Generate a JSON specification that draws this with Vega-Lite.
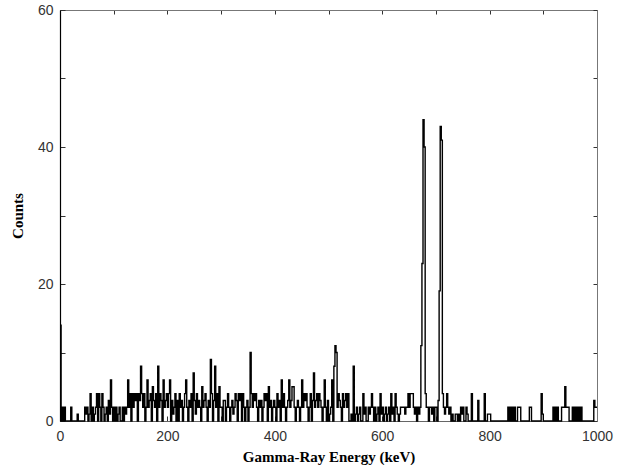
{
  "$schema": "https://vega.github.io/schema/vega-lite/v6.json",
  "width": 537,
  "height": 411,
  "autosize": "none",
  "padding": {"left": 60, "top": 10, "right": 27, "bottom": 44},
  "background": "white",
  "config": {"view": {"stroke": null}},
  "data": {"values": [
    {"e":0,"c":14},{"e":2,"c":0},{"e":4,"c":2},{"e":6,"c":0},{"e":8,"c":2},{"e":10,"c":0},{"e":12,"c":0},{"e":14,"c":0},{"e":16,"c":0},{"e":18,"c":0},
    {"e":20,"c":2},{"e":22,"c":0},{"e":24,"c":0},{"e":26,"c":0},{"e":28,"c":0},{"e":30,"c":0},{"e":32,"c":1},{"e":34,"c":0},{"e":36,"c":0},{"e":38,"c":0},
    {"e":40,"c":0},{"e":42,"c":0},{"e":44,"c":0},{"e":46,"c":2},{"e":48,"c":1},{"e":50,"c":2},{"e":52,"c":0},{"e":54,"c":1},{"e":56,"c":4},{"e":58,"c":0},
    {"e":60,"c":2},{"e":62,"c":0},{"e":64,"c":1},{"e":66,"c":2},{"e":68,"c":4},{"e":70,"c":0},{"e":72,"c":4},{"e":74,"c":2},{"e":76,"c":0},{"e":78,"c":4},
    {"e":80,"c":2},{"e":82,"c":0},{"e":84,"c":1},{"e":86,"c":2},{"e":88,"c":0},{"e":90,"c":3},{"e":92,"c":1},{"e":94,"c":6},{"e":96,"c":2},{"e":98,"c":0},
    {"e":100,"c":2},{"e":102,"c":0},{"e":104,"c":2},{"e":106,"c":0},{"e":108,"c":1},{"e":110,"c":2},{"e":112,"c":0},{"e":114,"c":0},{"e":116,"c":2},{"e":118,"c":0},
    {"e":120,"c":2},{"e":122,"c":1},{"e":124,"c":2},{"e":126,"c":6},{"e":128,"c":2},{"e":130,"c":4},{"e":132,"c":0},{"e":134,"c":4},{"e":136,"c":2},{"e":138,"c":4},
    {"e":140,"c":3},{"e":142,"c":4},{"e":144,"c":0},{"e":146,"c":4},{"e":148,"c":3},{"e":150,"c":8},{"e":152,"c":4},{"e":154,"c":2},{"e":156,"c":4},{"e":158,"c":0},
    {"e":160,"c":2},{"e":162,"c":6},{"e":164,"c":2},{"e":166,"c":3},{"e":168,"c":4},{"e":170,"c":0},{"e":172,"c":5},{"e":174,"c":3},{"e":176,"c":2},{"e":178,"c":4},
    {"e":180,"c":0},{"e":182,"c":8},{"e":184,"c":2},{"e":186,"c":4},{"e":188,"c":3},{"e":190,"c":0},{"e":192,"c":6},{"e":194,"c":2},{"e":196,"c":3},{"e":198,"c":4},
    {"e":200,"c":2},{"e":202,"c":4},{"e":204,"c":6},{"e":206,"c":0},{"e":208,"c":3},{"e":210,"c":1},{"e":212,"c":2},{"e":214,"c":4},{"e":216,"c":0},{"e":218,"c":3},
    {"e":220,"c":0},{"e":222,"c":4},{"e":224,"c":2},{"e":226,"c":3},{"e":228,"c":0},{"e":230,"c":2},{"e":232,"c":4},{"e":234,"c":6},{"e":236,"c":2},{"e":238,"c":0},
    {"e":240,"c":3},{"e":242,"c":2},{"e":244,"c":4},{"e":246,"c":0},{"e":248,"c":7},{"e":250,"c":3},{"e":252,"c":1},{"e":254,"c":4},{"e":256,"c":2},{"e":258,"c":3},
    {"e":260,"c":2},{"e":262,"c":0},{"e":264,"c":5},{"e":266,"c":2},{"e":268,"c":3},{"e":270,"c":4},{"e":272,"c":2},{"e":274,"c":0},{"e":276,"c":3},{"e":278,"c":2},
    {"e":280,"c":9},{"e":282,"c":4},{"e":284,"c":0},{"e":286,"c":3},{"e":288,"c":8},{"e":290,"c":2},{"e":292,"c":4},{"e":294,"c":0},{"e":296,"c":5},{"e":298,"c":2},
    {"e":300,"c":2},{"e":302,"c":0},{"e":304,"c":3},{"e":306,"c":3},{"e":308,"c":0},{"e":310,"c":2},{"e":312,"c":4},{"e":314,"c":2},{"e":316,"c":0},{"e":318,"c":2},
    {"e":320,"c":3},{"e":322,"c":1},{"e":324,"c":2},{"e":326,"c":4},{"e":328,"c":3},{"e":330,"c":0},{"e":332,"c":4},{"e":334,"c":3},{"e":336,"c":4},{"e":338,"c":0},
    {"e":340,"c":4},{"e":342,"c":2},{"e":344,"c":0},{"e":346,"c":2},{"e":348,"c":3},{"e":350,"c":0},{"e":352,"c":2},{"e":354,"c":10},{"e":356,"c":4},{"e":358,"c":2},
    {"e":360,"c":4},{"e":362,"c":3},{"e":364,"c":4},{"e":366,"c":2},{"e":368,"c":0},{"e":370,"c":3},{"e":372,"c":2},{"e":374,"c":3},{"e":376,"c":0},{"e":378,"c":2},
    {"e":380,"c":4},{"e":382,"c":3},{"e":384,"c":4},{"e":386,"c":0},{"e":388,"c":5},{"e":390,"c":2},{"e":392,"c":3},{"e":394,"c":0},{"e":396,"c":2},{"e":398,"c":3},
    {"e":400,"c":2},{"e":402,"c":0},{"e":404,"c":4},{"e":406,"c":2},{"e":408,"c":3},{"e":410,"c":0},{"e":412,"c":6},{"e":414,"c":2},{"e":416,"c":4},{"e":418,"c":2},
    {"e":420,"c":0},{"e":422,"c":2},{"e":424,"c":3},{"e":426,"c":6},{"e":428,"c":2},{"e":430,"c":3},{"e":432,"c":5},{"e":434,"c":5},{"e":436,"c":2},{"e":438,"c":0},
    {"e":440,"c":2},{"e":442,"c":3},{"e":444,"c":2},{"e":446,"c":0},{"e":448,"c":2},{"e":450,"c":6},{"e":452,"c":2},{"e":454,"c":4},{"e":456,"c":3},{"e":458,"c":4},
    {"e":460,"c":2},{"e":462,"c":0},{"e":464,"c":2},{"e":466,"c":4},{"e":468,"c":0},{"e":470,"c":3},{"e":472,"c":7},{"e":474,"c":2},{"e":476,"c":3},{"e":478,"c":4},
    {"e":480,"c":2},{"e":482,"c":4},{"e":484,"c":3},{"e":486,"c":2},{"e":488,"c":0},{"e":490,"c":2},{"e":492,"c":6},{"e":494,"c":2},{"e":496,"c":0},{"e":498,"c":3},
    {"e":500,"c":0},{"e":502,"c":1},{"e":504,"c":2},{"e":506,"c":6},{"e":508,"c":0},{"e":510,"c":8},{"e":512,"c":11},{"e":514,"c":10},{"e":516,"c":2},{"e":518,"c":4},
    {"e":520,"c":3},{"e":522,"c":2},{"e":524,"c":0},{"e":526,"c":4},{"e":528,"c":2},{"e":530,"c":3},{"e":532,"c":4},{"e":534,"c":2},{"e":536,"c":4},{"e":538,"c":0},
    {"e":540,"c":0},{"e":542,"c":1},{"e":544,"c":0},{"e":546,"c":8},{"e":548,"c":0},{"e":550,"c":1},{"e":552,"c":2},{"e":554,"c":0},{"e":556,"c":1},{"e":558,"c":2},
    {"e":560,"c":0},{"e":562,"c":0},{"e":564,"c":4},{"e":566,"c":1},{"e":568,"c":2},{"e":570,"c":0},{"e":572,"c":0},{"e":574,"c":2},{"e":576,"c":1},{"e":578,"c":2},
    {"e":580,"c":4},{"e":582,"c":2},{"e":584,"c":0},{"e":586,"c":2},{"e":588,"c":0},{"e":590,"c":1},{"e":592,"c":2},{"e":594,"c":0},{"e":596,"c":4},{"e":598,"c":1},
    {"e":600,"c":2},{"e":602,"c":0},{"e":604,"c":1},{"e":606,"c":2},{"e":608,"c":0},{"e":610,"c":1},{"e":612,"c":2},{"e":614,"c":0},{"e":616,"c":4},{"e":618,"c":1},
    {"e":620,"c":2},{"e":622,"c":0},{"e":624,"c":4},{"e":626,"c":2},{"e":628,"c":1},{"e":630,"c":0},{"e":632,"c":1},{"e":634,"c":2},{"e":636,"c":2},{"e":638,"c":2},
    {"e":640,"c":2},{"e":642,"c":1},{"e":644,"c":2},{"e":646,"c":2},{"e":648,"c":4},{"e":650,"c":2},{"e":652,"c":4},{"e":654,"c":4},{"e":656,"c":4},{"e":658,"c":2},
    {"e":660,"c":1},{"e":662,"c":2},{"e":664,"c":0},{"e":666,"c":2},{"e":668,"c":1},{"e":670,"c":2},{"e":672,"c":11},{"e":674,"c":23},{"e":676,"c":44},{"e":678,"c":40},
    {"e":680,"c":4},{"e":682,"c":2},{"e":684,"c":2},{"e":686,"c":0},{"e":688,"c":2},{"e":690,"c":2},{"e":692,"c":1},{"e":694,"c":2},{"e":696,"c":0},{"e":698,"c":2},
    {"e":700,"c":2},{"e":702,"c":0},{"e":704,"c":3},{"e":706,"c":19},{"e":708,"c":43},{"e":710,"c":41},{"e":712,"c":4},{"e":714,"c":2},{"e":716,"c":1},{"e":718,"c":2},
    {"e":720,"c":4},{"e":722,"c":2},{"e":724,"c":1},{"e":726,"c":2},{"e":728,"c":0},{"e":730,"c":1},{"e":732,"c":0},{"e":734,"c":0},{"e":736,"c":1},{"e":738,"c":1},
    {"e":740,"c":0},{"e":742,"c":1},{"e":744,"c":0},{"e":746,"c":2},{"e":748,"c":1},{"e":750,"c":2},{"e":752,"c":0},{"e":754,"c":0},{"e":756,"c":2},{"e":758,"c":1},
    {"e":760,"c":0},{"e":762,"c":0},{"e":764,"c":0},{"e":766,"c":4},{"e":768,"c":0},{"e":770,"c":0},{"e":772,"c":0},{"e":774,"c":0},{"e":776,"c":0},{"e":778,"c":3},
    {"e":780,"c":0},{"e":782,"c":0},{"e":784,"c":0},{"e":786,"c":0},{"e":788,"c":0},{"e":790,"c":4},{"e":792,"c":0},{"e":794,"c":0},{"e":796,"c":1},{"e":798,"c":1},
    {"e":800,"c":1},{"e":802,"c":0},{"e":804,"c":0},{"e":806,"c":0},{"e":808,"c":0},{"e":810,"c":0},{"e":812,"c":0},{"e":814,"c":0},{"e":816,"c":0},{"e":818,"c":0},
    {"e":820,"c":0},{"e":822,"c":0},{"e":824,"c":0},{"e":826,"c":0},{"e":828,"c":0},{"e":830,"c":0},{"e":832,"c":0},{"e":834,"c":2},{"e":836,"c":0},{"e":838,"c":2},
    {"e":840,"c":0},{"e":842,"c":2},{"e":844,"c":0},{"e":846,"c":2},{"e":848,"c":0},{"e":850,"c":0},{"e":852,"c":2},{"e":854,"c":2},{"e":856,"c":2},{"e":858,"c":0},
    {"e":860,"c":0},{"e":862,"c":0},{"e":864,"c":0},{"e":866,"c":0},{"e":868,"c":0},{"e":870,"c":0},{"e":872,"c":0},{"e":874,"c":2},{"e":876,"c":2},{"e":878,"c":0},
    {"e":880,"c":0},{"e":882,"c":0},{"e":884,"c":0},{"e":886,"c":0},{"e":888,"c":0},{"e":890,"c":0},{"e":892,"c":0},{"e":894,"c":0},{"e":896,"c":4},{"e":898,"c":1},
    {"e":900,"c":0},{"e":902,"c":0},{"e":904,"c":0},{"e":906,"c":0},{"e":908,"c":0},{"e":910,"c":0},{"e":912,"c":0},{"e":914,"c":0},{"e":916,"c":0},{"e":918,"c":2},
    {"e":920,"c":0},{"e":922,"c":2},{"e":924,"c":0},{"e":926,"c":2},{"e":928,"c":0},{"e":930,"c":0},{"e":932,"c":0},{"e":934,"c":2},{"e":936,"c":2},{"e":938,"c":2},
    {"e":940,"c":5},{"e":942,"c":2},{"e":944,"c":2},{"e":946,"c":2},{"e":948,"c":0},{"e":950,"c":0},{"e":952,"c":0},{"e":954,"c":2},{"e":956,"c":0},{"e":958,"c":2},
    {"e":960,"c":0},{"e":962,"c":2},{"e":964,"c":0},{"e":966,"c":2},{"e":968,"c":0},{"e":970,"c":2},{"e":972,"c":0},{"e":974,"c":0},{"e":976,"c":0},{"e":978,"c":0},
    {"e":980,"c":0},{"e":982,"c":0},{"e":984,"c":0},{"e":986,"c":0},{"e":988,"c":0},{"e":990,"c":0},{"e":992,"c":0},{"e":994,"c":3},{"e":996,"c":2},{"e":998,"c":2},
    {"e":1000,"c":2}
  ]},
  "layer": [
    {
      "mark": {"type": "line", "interpolate": "step-after", "color": "black", "strokeWidth": 1.4},
      "encoding": {
        "x": {"field": "e", "type": "quantitative", "scale": {"domain": [0, 1000], "nice": false},
          "axis": {"orient": "bottom", "values": [0,100,200,300,400,500,600,700,800,900,1000],
            "labelExpr": "datum.value % 200 === 0 ? '' + datum.value : ''",
            "title": "Gamma-Ray Energy (keV)", "titleFont": "Liberation Serif", "titleFontWeight": "bold", "titleFontSize": 15, "titleColor": "black", "titlePadding": 6,
            "labelFont": "Liberation Sans", "labelFontSize": 14, "labelColor": "#333", "labelPadding": 13, "labelFlush": false,
            "grid": false, "domainColor": "#666", "domainWidth": 1,
            "tickColor": "#333", "tickSize": -5}},
        "y": {"field": "c", "type": "quantitative", "scale": {"domain": [0, 60], "nice": false},
          "axis": {"orient": "left", "values": [0,10,20,30,40,50,60],
            "labelExpr": "datum.value % 20 === 0 ? '' + datum.value : ''",
            "title": "Counts", "titleFont": "Liberation Serif", "titleFontWeight": "bold", "titleFontSize": 15, "titleColor": "black", "titlePadding": 12,
            "labelFont": "Liberation Sans", "labelFontSize": 14, "labelColor": "#333", "labelPadding": 12, "labelFlush": false,
            "grid": false, "domainColor": "black", "domainWidth": 1.2,
            "tickColor": "#333", "tickSize": -5}}
      }
    },
    {
      "mark": {"type": "line", "interpolate": "step-after", "strokeOpacity": 0},
      "encoding": {
        "x": {"field": "e", "type": "quantitative", "scale": {"domain": [0, 1000], "nice": false},
          "axis": {"orient": "top", "values": [0,100,200,300,400,500,600,700,800,900,1000], "labels": false, "title": null,
            "grid": false, "domainColor": "#777", "tickColor": "#333", "tickSize": -4}},
        "y": {"field": "c", "type": "quantitative", "scale": {"domain": [0, 60], "nice": false},
          "axis": {"orient": "right", "values": [0,10,20,30,40,50,60], "labels": false, "title": null,
            "grid": false, "domainColor": "#777", "tickColor": "#333", "tickSize": -4}}
      }
    }
  ],
  "resolve": {"axis": {"x": "independent", "y": "independent"}}
}
